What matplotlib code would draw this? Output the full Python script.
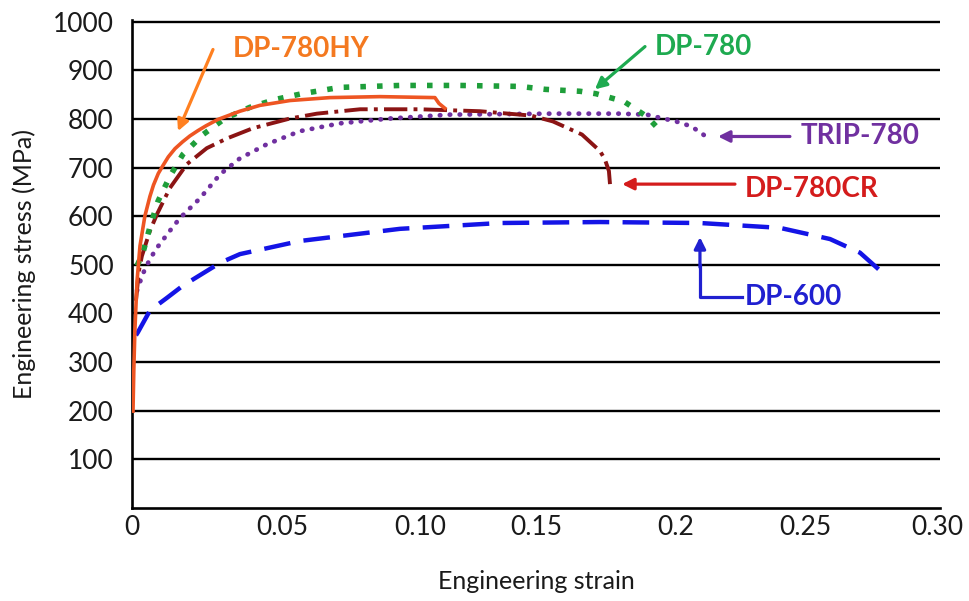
import numpy as np
import matplotlib
matplotlib.use("Agg")
import matplotlib.pyplot as plt

plt.rcParams['font.family'] = ['Lato', 'DejaVu Sans']

# strain / stress values
hy_strain = [0.0004, 0.0007, 0.0011, 0.0019, 0.0030, 0.0048, 0.0067, 0.0080, 0.0098, 0.0115,
             0.0135, 0.0160, 0.0188, 0.0215, 0.0245, 0.0275, 0.0319, 0.0401, 0.0475, 0.0587,
             0.0735, 0.0921, 0.1125, 0.1140, 0.1162]
hy_stress = [199, 283, 365, 467, 539, 600, 641, 664, 688, 704,
             722, 739, 753, 765, 776, 786, 799, 816, 828, 838,
             844, 846, 844, 832, 822]

dp780_strain = [0.0019, 0.0041, 0.0067, 0.0097, 0.0141, 0.0189, 0.0264, 0.0345, 0.0438, 0.0531,
                0.0631, 0.0772, 0.0995, 0.1218, 0.1441, 0.1534, 0.1664, 0.1723, 0.1827, 0.1912, 0.1946]
dp780_stress = [498, 525, 578, 631, 682, 727, 768, 801, 824, 840,
                852, 865, 869, 869, 867, 861, 857, 852, 836, 805, 785]

cr_strain = [0.0015, 0.0026, 0.0037, 0.0067, 0.0093, 0.0141, 0.0204, 0.0278, 0.0353, 0.0449,
             0.0587, 0.0687, 0.0847, 0.1069, 0.1292, 0.1482, 0.1563, 0.1671, 0.1738, 0.1756, 0.1771, 0.1775]
cr_stress = [426, 488, 518, 570, 604, 658, 707, 740, 760, 781,
             801, 811, 820, 820, 816, 807, 795, 768, 734, 717, 693, 666]

trip_strain = [0.0019, 0.0041, 0.0067, 0.0093, 0.0141, 0.0178, 0.0253, 0.0327, 0.0401, 0.0501,
               0.0624, 0.0772, 0.0958, 0.1181, 0.1552, 0.1812, 0.1912, 0.1972, 0.2020, 0.2076, 0.2117, 0.2143]
trip_stress = [447, 482, 512, 535, 570, 596, 637, 686, 719, 748,
               775, 791, 801, 809, 811, 811, 809, 801, 795, 785, 770, 758]

dp600_strain = [0.0015, 0.0022, 0.0067, 0.0130, 0.0189, 0.0327, 0.0401, 0.0624, 0.0995, 0.1367,
                0.1738, 0.2109, 0.2406, 0.2592, 0.2703, 0.2778]
dp600_stress = [355, 361, 406, 432, 457, 504, 522, 549, 574, 586,
                588, 586, 576, 553, 525, 488]

xtick_labels = ['0', '0.05', '0.10', '0.15', '0.2', '0.25', '0.30']
xtick_pos = [0.0, 0.056, 0.107, 0.150, 0.202, 0.250, 0.299]
yticks = list(range(100, 1001, 100))

fig = plt.figure(figsize=(9.7, 6.01), dpi=100)
ax = fig.add_axes([0.136, 0.155, 0.833, 0.812])

ax.plot(dp600_strain, dp600_stress, color='#1414E6', lw=3.2, dashes=(6, 3.0), zorder=3)
ax.plot(trip_strain, trip_stress, color='#7030A0', lw=3.4, dashes=(0.1, 2.0),
        dash_capstyle='round', zorder=4)
ax.plot(cr_strain, cr_stress, color='#8B1414', lw=2.8, dashes=(6, 1.6, 1, 1.6), zorder=5)
ax.plot(dp780_strain, dp780_stress, color='#1E9E3A', lw=4.0, dashes=(1, 2.0), zorder=6)
ax.plot(hy_strain, hy_stress, color='#EE5522', lw=2.6, zorder=7)

# annotations
arr = dict(arrowstyle='-|>', mutation_scale=17, lw=2.3, shrinkA=0, shrinkB=0)
lab = dict(fontsize=20, fontweight='bold', va='center')
ax.annotate('', xy=(0.0171, 775), xytext=(0.0301, 943),
            arrowprops=dict(arr, color='#FF8020'))
ax.text(0.0375, 943, 'DP-780HY', color='#F47920', **lab)

ax.annotate('', xy=(0.1719, 861), xytext=(0.1905, 949),
            arrowprops=dict(arr, color='#1EAA50'))
ax.text(0.1942, 949, 'DP-780', color='#1EAA50', **lab)

ax.annotate('', xy=(0.2176, 764), xytext=(0.2443, 764),
            arrowprops=dict(arr, color='#7030A0'))
ax.text(0.2481, 764, 'TRIP-780', color='#7030A0', **lab)

ax.annotate('', xy=(0.1820, 666), xytext=(0.2239, 666),
            arrowprops=dict(arr, color='#D41C1C'))
ax.text(0.2276, 656, 'DP-780CR', color='#D41C1C', **lab)

ax.plot([0.2265, 0.2109, 0.2109], [434, 434, 500], color='#2020D0', lw=2.3, zorder=3)
ax.annotate('', xy=(0.2109, 557), xytext=(0.2109, 495),
            arrowprops=dict(arr, color='#2020D0'))
ax.text(0.2276, 434, 'DP-600', color='#2020D0', **lab)

ax.set_xlim(0, 0.30)
ax.set_ylim(0, 1004)
ax.set_xticks(xtick_pos)
ax.set_xticklabels(xtick_labels)
ax.set_yticks(yticks)
ax.yaxis.grid(True, color='black', lw=1.7)
ax.set_axisbelow(True)
ax.tick_params(axis='both', length=0, labelsize=19, colors='#1a1a1a')
ax.tick_params(axis='y', pad=13)
ax.tick_params(axis='x', pad=5)

for s in ['top', 'right']:
    ax.spines[s].set_visible(False)
for s in ['left', 'bottom']:
    ax.spines[s].set_linewidth(1.9)
    ax.spines[s].set_color('black')

ax.set_xlabel('Engineering strain', fontsize=18, color='#1a1a1a', labelpad=22)
ax.set_ylabel('Engineering stress (MPa)', fontsize=18, color='#1a1a1a', labelpad=12)

fig.savefig('out.png', dpi=100)
